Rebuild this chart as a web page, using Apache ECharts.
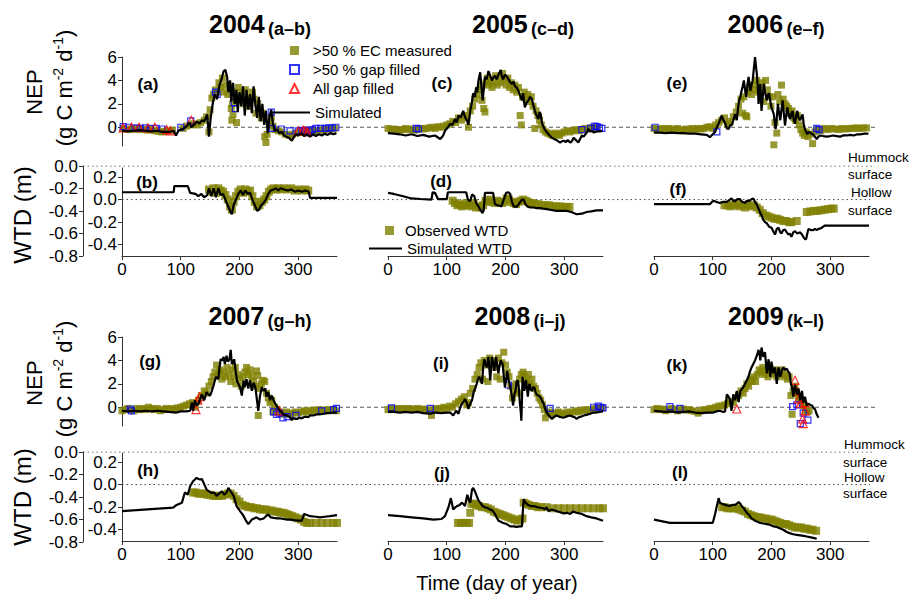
<!DOCTYPE html>
<html><head><meta charset="utf-8">
<script src="https://cdn.jsdelivr.net/npm/echarts@6/dist/echarts.min.js"></script>
<style>html,body{margin:0;padding:0;background:#fff}#c{width:909px;height:599px}</style>
</head><body><div id="c"></div>
<script>
// ---------------- DATA ----------------
const years = ['2004','2005','2006','2007','2008','2009'];
const yearTags = ['(a–b)','(c–d)','(e–f)','(g–h)','(i–j)','(k–l)'];
const nepLabels = ['(a)','(c)','(e)','(g)','(i)','(k)'];
const wtdLabels = ['(b)','(d)','(f)','(h)','(j)','(l)'];
const dayTicks = [0,100,200,300];
const nepTicks = [0,2,4,6];
const wtdInnerTicks = [-0.4,-0.2,0,0.2];
const wtdOuterTicks = [0,-0.2,-0.4,-0.6,-0.8];

const nep2004Sim = [[0,-0.3],[10,-0.35],[20,-0.3],[30,-0.25],[40,-0.3],[50,-0.35],[60,-0.3],[70,-0.4],[80,-0.4],[88,-0.3],[92,-0.7],[96,-0.3],[100,-0.2],[105,-0.1],[110,0.1],[115,0.4],[118,0.0],[122,0.2],[128,0.5],[132,0.3],[136,0.6],[140,0.5],[145,1.1],[148,-0.8],[151,0.8],[155,2.2],[158,2.8],[162,2.4],[166,3.6],[170,4.2],[173,4.8],[176,4.9],[179,4.3],[181,3.0],[184,4.0],[186,2.2],[189,3.8],[192,2.0],[195,3.2],[197,1.3],[200,3.0],[203,1.8],[206,3.5],[209,1.0],[212,3.2],[215,1.5],[218,2.8],[221,1.2],[224,3.5],[227,2.0],[230,0.8],[233,2.6],[236,0.5],[239,2.0],[242,0.2],[245,1.4],[248,-0.5],[251,0.9],[254,1.5],[257,0.3],[260,-0.3],[264,-0.2],[268,-0.5],[272,-0.4],[276,-0.7],[280,-0.8],[284,-0.9],[289,-1.15],[293,-0.8],[296,-0.6],[300,-0.7],[305,-0.5],[310,-0.75],[315,-0.6],[320,-0.8],[325,-0.6],[330,-0.75],[335,-0.6],[340,-0.7],[345,-0.55],[350,-0.65],[355,-0.5],[360,-0.6],[365,-0.5]];
const nep2004Obs = [[2,-0.1],[8,-0.15],[14,-0.2],[20,-0.1],[26,-0.2],[32,-0.15],[38,-0.2],[44,-0.25],[50,-0.2],[56,-0.3],[62,-0.35],[68,-0.4],[74,-0.35],[80,-0.3],[86,-0.25],[104,-0.1],[110,0.1],[116,0.2],[122,0.3],[128,0.2],[134,0.4],[140,0.6],[144,0.9],[148,-0.4],[150,1.5],[153,2.5],[156,2.8],[159,3.2],[162,3.0],[165,3.8],[168,3.4],[171,4.2],[174,3.0],[177,3.6],[180,2.8],[183,3.5],[186,1.6],[187,0.6],[188,2.0],[189,1.1],[190,3.0],[192,2.4],[195,0.4],[198,3.4],[201,2.6],[204,3.0],[207,2.0],[210,3.2],[213,2.4],[216,1.8],[219,2.6],[222,3.0],[225,2.4],[228,1.2],[231,2.0],[234,1.6],[237,0.8],[240,1.2],[243,-0.8],[245,-1.3],[247,-0.6],[251,0.3],[254,0.8],[257,0.1],[260,-0.2],[266,-0.3],[272,-0.4],[278,-0.6],[284,-0.7],[290,-0.6],[296,-0.5],[302,-0.4],[308,-0.45],[314,-0.35],[320,-0.4],[326,-0.3],[332,-0.3],[338,-0.25],[344,-0.2],[350,-0.2],[356,-0.15],[362,-0.1]];
const nep2004Gap = [[2,0.05],[12,0.0],[25,-0.05],[31,-0.1],[40,-0.05],[48,-0.1],[58,-0.1],[68,-0.15],[100,0.0],[117,0.55],[159,3.0],[162,2.8],[191,2.1],[193,1.6],[254,1.3],[256,-0.1],[271,-0.15],[286,-0.3],[300,-0.3],[306,-0.3],[312,-0.25],[318,-0.3],[324,-0.2],[330,-0.1],[338,-0.1],[346,-0.1],[352,-0.05],[358,-0.05],[364,0.0]];
const nep2004All = [[2,-0.05],[16,0.0],[29,0.0],[44,-0.05],[56,0.0],[76,-0.2],[82,-0.3],[118,0.6],[300,-0.3],[308,-0.25],[312,-0.3],[316,-0.4]];
const wtd2004Sim = [[0,0.065],[88,0.065],[89,0.12],[100,0.12],[112,0.12],[116,0.06],[125,0.05],[130,0.03],[135,0.05],[140,0.02],[145,0.04],[148,0.1],[152,0.03],[156,0.1],[160,0.02],[164,0.1],[168,0.04],[172,0.05],[176,0.0],[180,-0.05],[184,-0.1],[187,-0.13],[190,-0.05],[194,0.0],[198,0.05],[202,0.08],[206,0.04],[210,0.08],[214,0.05],[218,0.06],[222,0.0],[226,-0.05],[230,-0.1],[233,-0.09],[237,-0.05],[241,-0.03],[245,0.0],[249,0.05],[253,0.08],[258,0.09],[262,0.1],[266,0.08],[270,0.1],[276,0.09],[282,0.08],[288,0.09],[294,0.07],[300,0.08],[306,0.07],[312,0.08],[318,0.07],[320,0.015],[366,0.015]];
const wtd2004Obs = [[148,0.09],[152,0.07],[156,0.1],[160,0.06],[164,0.1],[168,0.08],[172,0.07],[176,0.04],[180,0.0],[184,-0.06],[187,-0.09],[190,-0.02],[194,0.03],[198,0.07],[202,0.09],[206,0.06],[210,0.09],[214,0.07],[218,0.08],[222,0.03],[226,-0.02],[230,-0.06],[234,-0.05],[238,-0.02],[242,0.0],[246,0.03],[250,0.07],[254,0.09],[258,0.1],[262,0.09],[266,0.1],[270,0.09],[276,0.1],[282,0.09],[288,0.1],[294,0.08],[300,0.09],[306,0.08],[312,0.09],[317,0.08]];

const nep2005Sim = [[0,-0.5],[10,-0.55],[20,-0.6],[30,-0.7],[40,-0.6],[50,-0.75],[60,-0.65],[70,-0.8],[80,-0.7],[89,-1.0],[94,-0.7],[97,-0.3],[102,0.0],[106,0.3],[110,0.2],[114,0.7],[117,0.4],[120,1.0],[124,0.85],[128,1.4],[131,0.9],[134,0.6],[137,0.2],[140,1.4],[143,2.2],[145,2.9],[148,2.6],[150,3.4],[152,3.0],[154,4.0],[157,4.7],[159,3.5],[161,2.3],[163,3.2],[165,4.3],[168,4.1],[171,4.8],[174,4.4],[177,4.0],[180,4.3],[182,4.4],[185,4.1],[188,4.5],[192,4.9],[194,4.3],[196,4.1],[199,4.5],[203,4.3],[207,3.9],[211,3.7],[214,3.9],[216,3.5],[219,3.4],[222,3.1],[225,2.7],[228,2.3],[230,2.9],[233,1.7],[236,2.1],[239,2.3],[242,2.6],[245,2.4],[248,1.8],[250,1.4],[253,1.0],[256,0.7],[258,1.3],[260,1.1],[262,0.4],[264,0.1],[267,-0.2],[270,-0.4],[275,-0.7],[279,-0.9],[283,-1.0],[287,-1.1],[290,-1.2],[293,-1.3],[296,-1.2],[299,-1.15],[303,-1.25],[306,-1.1],[310,-1.3],[313,-1.2],[316,-0.9],[320,-1.1],[324,-1.3],[327,-1.0],[330,-0.7],[333,-0.8],[336,-0.6],[339,-0.4],[341,-0.15],[344,-0.35],[347,-0.3],[350,-0.45],[353,-0.4],[357,-0.35],[361,-0.35],[365,-0.3]];
const nep2005Obs = [[0,-0.1],[5,-0.2],[10,-0.15],[15,-0.2],[20,-0.25],[25,-0.2],[30,-0.1],[35,-0.2],[40,-0.15],[45,-0.25],[50,-0.2],[55,-0.1],[60,-0.15],[65,-0.1],[70,-0.05],[75,0.0],[80,-0.1],[85,0.05],[90,0.0],[95,0.1],[100,0.2],[105,0.3],[110,0.5],[115,0.4],[120,0.8],[125,0.6],[130,1.0],[134,0.8],[137,0.0],[140,1.4],[144,1.8],[148,2.4],[152,2.8],[155,3.2],[158,3.6],[160,2.3],[163,1.6],[165,1.3],[167,3.8],[169,4.2],[171,3.6],[174,4.0],[177,3.4],[180,3.8],[183,4.4],[186,3.6],[189,4.2],[192,3.8],[195,4.6],[198,4.0],[201,3.6],[204,4.2],[207,3.4],[210,3.8],[213,3.2],[216,3.6],[219,3.0],[222,3.4],[225,1.0],[227,0.2],[229,2.6],[232,3.0],[235,2.4],[238,2.8],[241,2.2],[244,2.6],[247,1.8],[250,-0.1],[252,1.4],[255,1.0],[258,0.6],[261,0.2],[264,-0.2],[268,-0.4],[272,-0.5],[276,-0.6],[280,-0.7],[284,-0.5],[288,-0.6],[292,-0.7],[296,-0.5],[300,-0.4],[305,-0.3],[310,-0.4],[315,-0.3],[320,-0.2],[325,-0.3],[330,-0.2],[335,-0.1],[340,-0.15],[345,-0.05],[350,0.0],[355,-0.1]];
const nep2005Gap = [[48,-0.1],[52,-0.15],[330,-0.2],[345,-0.1],[352,0.1],[356,0.05],[360,-0.05],[364,-0.1]];
const nep2005All = [];
const wtd2005Sim = [[0,0.06],[10,0.05],[26,0.03],[40,0.01],[55,0.005],[74,0.0],[76,0.065],[80,0.06],[85,0.005],[100,0.005],[102,0.065],[120,0.065],[133,0.065],[136,0.0],[140,-0.015],[143,0.045],[147,0.03],[150,-0.03],[154,-0.06],[157,-0.09],[161,-0.12],[163,-0.09],[165,0.06],[172,0.06],[179,0.06],[182,-0.04],[186,-0.05],[190,-0.055],[193,-0.06],[197,0.0],[201,0.06],[205,0.065],[208,0.05],[211,-0.02],[214,-0.06],[219,-0.065],[224,-0.03],[228,0.0],[231,0.0],[234,-0.04],[237,-0.06],[242,-0.07],[248,-0.07],[253,-0.075],[259,-0.075],[264,-0.08],[270,-0.085],[276,-0.09],[282,-0.095],[287,-0.1],[295,-0.1],[304,-0.1],[312,-0.11],[321,-0.13],[330,-0.125],[338,-0.11],[346,-0.105],[355,-0.095],[366,-0.095]];
const wtd2005Obs = [[110,-0.01],[114,-0.03],[118,-0.05],[122,-0.04],[126,-0.06],[130,-0.05],[134,-0.03],[138,-0.05],[142,-0.06],[146,-0.03],[150,-0.07],[154,-0.06],[158,-0.07],[162,-0.05],[166,-0.01],[170,-0.02],[174,0.0],[178,-0.02],[182,-0.03],[186,-0.01],[190,-0.02],[194,-0.03],[198,-0.02],[202,0.01],[206,0.0],[210,-0.02],[214,-0.03],[218,-0.04],[222,-0.02],[226,-0.01],[230,0.0],[234,-0.01],[238,-0.02],[242,-0.03],[246,-0.03],[250,-0.04],[256,-0.04],[262,-0.05],[268,-0.05],[274,-0.05],[280,-0.06],[286,-0.06],[292,-0.06],[298,-0.065],[304,-0.065],[309,-0.065]];

const nep2006Sim = [[0,-0.45],[10,-0.45],[20,-0.5],[30,-0.45],[40,-0.5],[50,-0.5],[60,-0.55],[70,-0.55],[80,-0.6],[90,-0.65],[95,-0.85],[100,-0.6],[104,-0.4],[107,0.0],[110,0.3],[113,0.7],[115,1.0],[118,0.6],[121,0.4],[124,-0.1],[127,-0.15],[130,0.2],[132,0.15],[135,0.6],[138,1.1],[141,0.6],[143,1.6],[145,2.3],[147,2.6],[149,3.1],[151,3.5],[153,4.0],[155,3.2],[157,2.6],[159,3.6],[161,4.3],[163,3.5],[164,3.1],[166,3.6],[168,4.0],[170,5.0],[172,6.0],[174,5.0],[175,4.6],[177,3.2],[178,2.0],[180,3.2],[181,3.7],[183,1.4],[185,2.5],[187,3.7],[189,3.0],[192,2.3],[194,2.8],[196,2.9],[198,2.2],[200,1.7],[202,1.4],[204,1.1],[207,-0.15],[209,0.8],[211,2.0],[213,1.2],[215,0.6],[217,1.5],[219,2.3],[221,1.2],[223,0.15],[225,1.0],[227,1.7],[230,0.9],[232,0.7],[234,1.2],[236,1.4],[238,0.6],[240,0.3],[242,1.0],[244,1.4],[246,0.8],[249,0.6],[251,0.9],[253,1.1],[255,0.2],[257,-0.15],[259,-0.4],[261,-0.6],[263,-0.4],[266,-0.45],[269,-0.6],[271,-0.6],[274,-0.8],[277,-1.0],[280,-0.8],[283,-0.7],[288,-0.75],[294,-0.8],[300,-0.75],[305,-0.7],[311,-0.75],[317,-0.8],[322,-0.7],[328,-0.7],[334,-0.65],[340,-0.7],[346,-0.6],[351,-0.6],[358,-0.55],[365,-0.55]];
const nep2006Obs = [[0,-0.1],[5,-0.2],[10,-0.15],[15,-0.1],[20,-0.2],[25,-0.1],[30,-0.15],[35,-0.2],[40,-0.1],[45,-0.2],[50,-0.3],[55,-0.15],[60,-0.2],[65,-0.1],[70,-0.2],[75,-0.1],[80,-0.15],[85,-0.1],[90,0.0],[95,0.05],[100,-0.1],[105,0.2],[110,0.4],[115,0.6],[120,0.8],[125,0.3],[130,0.5],[135,0.9],[140,1.3],[144,1.8],[148,2.4],[151,1.2],[153,2.6],[156,1.0],[158,0.9],[160,3.0],[163,3.4],[166,2.8],[169,3.6],[172,3.2],[175,4.0],[178,3.0],[181,3.4],[184,3.8],[187,2.2],[190,4.0],[193,3.2],[196,2.6],[199,1.8],[202,2.6],[204,-1.5],[206,0.4],[209,-0.5],[211,2.8],[214,2.2],[217,3.6],[220,2.4],[223,2.0],[226,1.8],[229,1.6],[232,1.2],[235,1.4],[238,0.8],[241,0.6],[244,1.0],[247,0.2],[250,-0.2],[253,-0.5],[256,-0.7],[259,-0.4],[262,-0.8],[266,-0.6],[270,-1.4],[274,-0.4],[278,-0.2],[284,-0.3],[290,-0.1],[296,-0.2],[302,-0.1],[308,-0.15],[314,-0.2],[320,-0.1],[326,-0.15],[332,-0.1],[338,-0.1],[344,-0.05],[350,-0.1],[356,-0.05],[362,-0.05]];
const nep2006Gap = [[2,0.0],[107,-0.4],[277,-0.1],[281,-0.2]];
const nep2006All = [];
const wtd2006Sim = [[0,-0.04],[95,-0.04],[101,-0.01],[106,-0.02],[112,-0.03],[118,-0.02],[124,-0.02],[128,-0.005],[132,0.01],[135,-0.01],[138,-0.015],[142,0.005],[146,0.005],[150,-0.02],[155,-0.03],[158,-0.01],[161,-0.015],[165,0.0],[169,0.01],[172,-0.02],[175,-0.045],[178,-0.08],[181,-0.12],[184,-0.15],[186,-0.18],[189,-0.2],[192,-0.21],[196,-0.24],[200,-0.25],[203,-0.28],[206,-0.31],[209,-0.26],[212,-0.25],[215,-0.29],[217,-0.3],[220,-0.27],[223,-0.265],[226,-0.29],[229,-0.31],[231,-0.3],[234,-0.33],[237,-0.29],[240,-0.28],[244,-0.3],[249,-0.29],[252,-0.31],[254,-0.33],[257,-0.35],[259,-0.35],[261,-0.3],[263,-0.26],[267,-0.27],[271,-0.27],[274,-0.26],[277,-0.27],[280,-0.26],[284,-0.255],[288,-0.24],[291,-0.23],[300,-0.23],[320,-0.23],[340,-0.23],[366,-0.23]];
const wtd2006Obs = [[120,-0.05],[125,-0.05],[130,-0.06],[135,-0.05],[140,-0.04],[145,-0.06],[150,-0.05],[155,-0.07],[160,-0.05],[165,-0.06],[170,-0.05],[175,-0.07],[180,-0.09],[185,-0.12],[190,-0.14],[195,-0.15],[200,-0.16],[205,-0.17],[210,-0.17],[215,-0.18],[220,-0.19],[225,-0.19],[230,-0.2],[234,-0.2],[243,-0.19],[260,-0.11],[266,-0.105],[272,-0.1],[278,-0.1],[284,-0.095],[290,-0.09],[296,-0.085],[302,-0.08],[306,-0.08]];

const nep2007Sim = [[0,-0.3],[10,-0.35],[20,-0.3],[30,-0.35],[40,-0.3],[50,-0.35],[60,-0.3],[70,-0.35],[80,-0.4],[93,-0.45],[100,-0.35],[110,-0.35],[116,-0.3],[119,0.4],[121,-0.3],[124,0.6],[127,0.15],[130,0.3],[133,0.7],[136,1.1],[140,0.6],[144,1.3],[147,1.1],[150,1.0],[153,1.4],[156,1.9],[160,2.6],[164,2.4],[166,3.4],[168,4.1],[171,4.0],[173,4.3],[175,3.7],[178,4.4],[180,3.9],[183,4.1],[185,4.9],[187,3.7],[189,3.8],[191,4.1],[194,2.9],[196,2.2],[198,2.0],[201,1.7],[204,1.0],[207,2.3],[209,1.7],[212,2.4],[215,1.6],[218,2.3],[221,1.4],[224,2.1],[227,1.7],[229,0.9],[232,-0.3],[235,1.0],[238,1.7],[241,1.4],[244,1.6],[246,0.9],[249,1.3],[252,0.6],[255,1.0],[258,0.6],[261,0.3],[263,0.15],[266,-0.1],[269,-0.3],[272,-0.45],[275,-0.6],[278,-0.7],[281,-0.7],[284,-0.8],[287,-0.9],[289,-1.1],[292,-0.9],[295,-1.0],[298,-1.0],[302,-0.9],[306,-0.95],[309,-0.85],[313,-0.8],[317,-0.85],[320,-0.7],[326,-0.7],[332,-0.6],[338,-0.6],[343,-0.55],[348,-0.5],[354,-0.5],[360,-0.45],[366,-0.45]];
const nep2007Obs = [[0,-0.3],[5,-0.2],[10,-0.1],[15,-0.2],[20,-0.3],[25,-0.1],[30,-0.2],[35,-0.1],[40,-0.2],[45,0.0],[50,-0.1],[55,-0.2],[60,-0.1],[65,-0.3],[70,-0.2],[75,-0.1],[80,-0.2],[85,-0.1],[90,-0.2],[95,-0.05],[100,0.0],[105,0.1],[110,0.2],[115,0.3],[120,0.4],[125,0.0],[130,0.6],[135,1.0],[140,1.4],[144,1.2],[148,1.8],[152,2.2],[155,2.6],[158,3.0],[161,3.6],[164,2.8],[167,3.2],[170,2.4],[173,3.0],[176,2.6],[179,3.4],[182,2.8],[185,2.2],[188,3.2],[191,2.6],[193,3.4],[194,2.0],[197,2.8],[200,2.4],[203,1.8],[206,2.6],[209,3.0],[212,3.4],[215,2.8],[218,3.2],[221,2.6],[224,2.2],[227,1.8],[229,3.1],[231,2.7],[232,-0.7],[234,1.6],[237,2.0],[240,2.3],[243,2.2],[246,1.2],[249,0.8],[252,0.4],[255,0.6],[257,-0.4],[260,0.0],[264,-0.2],[268,-0.4],[272,-0.6],[276,-0.5],[280,-0.4],[285,-0.6],[290,-0.5],[295,-0.4],[300,-0.5],[305,-0.4],[310,-0.3],[315,-0.4],[320,-0.3],[325,-0.25],[330,-0.3],[335,-0.2],[340,-0.25],[345,-0.3],[350,-0.2],[355,-0.25],[360,-0.2],[365,-0.3]];
const nep2007Gap = [[14,-0.15],[16,-0.3],[258,-0.4],[263,-0.6],[268,-0.5],[274,-0.9],[281,-0.8],[296,-0.7],[340,-0.3],[360,-0.2],[365,-0.1]];
const nep2007All = [[126,-0.2],[129,0.6],[132,0.9],[268,-0.3]];
const wtd2007Sim = [[0,-0.235],[87,-0.205],[93,-0.18],[102,-0.16],[107,-0.07],[112,-0.09],[116,-0.015],[121,0.03],[127,0.06],[130,0.05],[133,0.045],[136,0.05],[139,0.015],[144,-0.045],[148,-0.06],[153,-0.075],[157,-0.07],[161,-0.1],[165,-0.08],[170,-0.06],[174,-0.09],[178,-0.07],[181,-0.03],[185,-0.06],[190,-0.1],[195,-0.19],[201,-0.235],[206,-0.27],[210,-0.31],[215,-0.35],[218,-0.33],[221,-0.31],[225,-0.3],[229,-0.29],[235,-0.31],[241,-0.3],[245,-0.28],[249,-0.265],[253,-0.29],[258,-0.295],[264,-0.3],[269,-0.3],[275,-0.305],[281,-0.31],[287,-0.31],[292,-0.315],[300,-0.32],[306,-0.32],[308,-0.29],[310,-0.26],[315,-0.27],[320,-0.28],[330,-0.285],[337,-0.29],[345,-0.285],[354,-0.28],[366,-0.27]];
const wtd2007Obs = [[121,-0.07],[125,-0.07],[130,-0.08],[135,-0.08],[140,-0.08],[145,-0.09],[150,-0.09],[155,-0.1],[160,-0.1],[165,-0.1],[170,-0.1],[175,-0.09],[180,-0.08],[185,-0.08],[190,-0.1],[195,-0.13],[200,-0.15],[205,-0.18],[210,-0.19],[215,-0.2],[220,-0.2],[225,-0.21],[230,-0.21],[235,-0.22],[240,-0.22],[245,-0.22],[250,-0.23],[255,-0.23],[260,-0.24],[265,-0.24],[270,-0.25],[275,-0.25],[280,-0.26],[285,-0.27],[290,-0.28],[295,-0.29],[300,-0.3],[305,-0.31],[310,-0.33],[315,-0.34],[320,-0.34],[330,-0.34],[340,-0.34],[350,-0.34],[360,-0.34],[366,-0.34]];

const nep2008Sim = [[0,-0.4],[10,-0.4],[20,-0.45],[30,-0.4],[40,-0.45],[50,-0.4],[60,-0.5],[72,-0.55],[80,-0.45],[90,-0.5],[100,-0.45],[106,-0.45],[111,-0.7],[116,-0.3],[120,-0.55],[123,0.0],[126,0.3],[129,0.5],[131,0.7],[134,0.4],[137,-0.15],[140,0.3],[143,0.6],[146,1.3],[149,1.7],[151,2.0],[153,2.4],[155,2.6],[158,2.3],[160,2.0],[162,3.4],[164,4.1],[166,3.7],[168,3.4],[171,4.3],[173,3.0],[174,2.3],[176,3.6],[177,4.3],[179,3.8],[181,3.1],[183,4.0],[184,4.3],[186,3.5],[188,2.9],[190,3.6],[192,4.0],[195,3.7],[197,2.7],[199,1.7],[201,2.3],[203,3.1],[205,2.4],[207,2.0],[209,1.5],[211,0.9],[213,0.15],[215,1.1],[217,1.4],[219,2.2],[221,2.3],[223,1.5],[224,0.6],[226,-0.4],[227,-1.15],[228,0.5],[229,2.6],[231,1.8],[232,1.4],[234,2.2],[235,2.3],[237,1.4],[238,0.9],[240,1.8],[241,2.0],[243,1.5],[245,1.4],[247,1.7],[249,1.7],[251,1.3],[253,1.1],[256,1.0],[259,0.9],[262,0.6],[265,0.3],[268,-0.2],[270,-0.45],[274,-0.7],[279,-1.0],[283,-0.8],[287,-0.7],[291,-0.8],[295,-0.85],[299,-0.9],[303,-0.8],[306,-0.75],[310,-0.7],[314,-0.8],[318,-0.85],[321,-1.0],[325,-0.85],[329,-0.8],[333,-0.7],[338,-0.65],[344,-0.55],[350,-0.45],[355,-0.45],[360,-0.4],[366,-0.35]];
const nep2008Obs = [[0,-0.2],[5,-0.1],[10,-0.2],[15,-0.1],[20,-0.15],[25,-0.1],[30,-0.2],[35,-0.1],[40,-0.15],[45,-0.2],[50,-0.1],[55,-0.2],[60,-0.15],[65,-0.2],[70,-0.3],[74,-0.7],[78,-0.2],[82,-0.1],[86,-0.2],[90,-0.1],[95,0.0],[100,-0.1],[105,0.1],[110,0.0],[115,0.3],[120,0.5],[125,0.7],[130,0.9],[134,0.2],[137,0.4],[140,1.2],[144,1.6],[148,2.4],[152,2.8],[155,3.4],[158,3.8],[161,2.4],[164,4.0],[167,3.6],[170,2.2],[173,4.2],[176,3.8],[179,4.0],[182,3.4],[185,2.6],[188,4.2],[191,2.4],[194,3.8],[197,4.7],[200,3.6],[203,3.0],[206,2.6],[209,1.8],[212,0.8],[215,1.4],[218,2.0],[221,1.2],[224,2.4],[227,2.8],[230,3.0],[233,2.6],[236,2.2],[239,2.8],[242,2.0],[245,2.4],[248,1.8],[251,1.6],[254,1.2],[257,0.8],[260,0.6],[263,0.2],[266,-0.2],[268,-0.9],[272,-0.5],[276,-0.4],[280,-0.6],[285,-0.5],[290,-0.4],[295,-0.5],[300,-0.6],[305,-0.4],[310,-0.5],[315,-0.4],[320,-0.3],[325,-0.4],[330,-0.3],[335,-0.2],[340,-0.3],[345,-0.2],[350,-0.15],[355,-0.1],[360,-0.1],[365,-0.05]];
const nep2008Gap = [[6,-0.05],[72,-0.1],[205,1.9],[276,-0.1],[350,0.0],[358,0.1],[362,0.0],[366,-0.05]];
const nep2008All = [];
const wtd2008Sim = [[0,-0.27],[20,-0.28],[40,-0.29],[60,-0.3],[77,-0.31],[91,-0.305],[97,-0.28],[103,-0.2],[107,-0.12],[111,-0.22],[115,-0.2],[118,-0.19],[122,-0.18],[126,-0.16],[131,-0.19],[135,-0.09],[138,-0.14],[140,-0.16],[143,-0.045],[145,-0.03],[148,-0.06],[151,-0.1],[154,-0.14],[157,-0.16],[161,-0.19],[165,-0.2],[170,-0.21],[174,-0.22],[178,-0.23],[182,-0.26],[186,-0.3],[188,-0.32],[192,-0.33],[196,-0.34],[202,-0.35],[208,-0.37],[214,-0.37],[219,-0.375],[224,-0.37],[228,-0.37],[230,-0.2],[231,-0.13],[234,-0.16],[238,-0.18],[243,-0.19],[248,-0.19],[254,-0.2],[259,-0.205],[264,-0.21],[267,-0.22],[270,-0.2],[273,-0.235],[279,-0.22],[284,-0.23],[287,-0.235],[293,-0.245],[299,-0.255],[305,-0.25],[310,-0.26],[315,-0.24],[321,-0.25],[330,-0.26],[338,-0.28],[346,-0.29],[355,-0.3],[366,-0.32]];
const wtd2008Obs = [[119,-0.34],[124,-0.34],[129,-0.34],[134,-0.34],[138,-0.34],[140,-0.25],[142,-0.17],[146,-0.17],[150,-0.18],[155,-0.19],[160,-0.2],[165,-0.2],[170,-0.21],[175,-0.22],[180,-0.24],[185,-0.25],[190,-0.26],[195,-0.27],[200,-0.28],[205,-0.29],[210,-0.3],[215,-0.31],[220,-0.32],[225,-0.31],[229,-0.3],[231,-0.16],[235,-0.17],[240,-0.18],[245,-0.19],[250,-0.19],[255,-0.2],[260,-0.2],[270,-0.2],[280,-0.21],[290,-0.21],[300,-0.21],[310,-0.21],[320,-0.21],[330,-0.21],[340,-0.21],[350,-0.21],[360,-0.21],[366,-0.21]];

const nep2009Sim = [[0,-0.3],[10,-0.35],[20,-0.4],[30,-0.35],[40,-0.45],[50,-0.4],[60,-0.35],[70,-0.45],[80,-0.5],[90,-0.45],[101,-0.45],[106,-0.35],[112,-0.3],[118,-0.4],[121,-0.35],[124,1.1],[127,0.9],[129,0.7],[132,-0.3],[135,1.1],[138,0.6],[141,1.4],[144,0.45],[147,1.4],[150,1.6],[152,1.7],[155,2.0],[158,2.3],[161,2.6],[163,3.0],[166,3.4],[169,3.7],[172,4.0],[175,4.4],[178,4.9],[180,4.4],[181,4.0],[183,5.1],[186,4.3],[189,4.7],[192,2.9],[195,4.1],[198,2.6],[200,3.9],[203,2.9],[206,3.4],[209,2.0],[212,3.4],[215,2.6],[218,3.2],[220,3.4],[223,3.2],[226,3.3],[229,3.0],[231,2.9],[233,2.0],[235,1.7],[237,0.9],[240,1.9],[243,1.1],[246,1.6],[249,0.6],[252,1.4],[254,0.4],[257,0.9],[260,0.15],[263,0.3],[266,0.2],[269,0.15],[272,-0.1],[274,-0.15],[277,-0.6],[280,-0.9]];
const nep2009Obs = [[0,-0.2],[5,-0.1],[10,-0.2],[15,-0.15],[20,-0.3],[25,-0.2],[30,-0.1],[35,-0.2],[40,-0.3],[45,-0.2],[50,-0.15],[55,-0.25],[60,-0.2],[65,-0.3],[70,-0.35],[75,-0.5],[80,-0.3],[85,-0.2],[90,-0.25],[95,-0.1],[100,-0.1],[105,0.0],[110,0.1],[115,0.1],[120,0.2],[125,0.3],[130,0.5],[135,0.4],[140,0.8],[144,1.0],[148,1.4],[152,1.2],[155,1.6],[158,2.0],[161,1.8],[164,2.4],[167,2.2],[170,2.6],[173,2.2],[176,2.8],[179,3.2],[182,3.0],[185,3.4],[188,2.8],[191,3.2],[194,2.6],[197,3.4],[200,3.0],[203,2.8],[206,3.2],[209,2.6],[212,3.0],[215,2.8],[218,3.2],[221,2.6],[224,2.8],[227,2.4],[230,2.6],[233,1.0],[235,-0.6],[237,1.4],[240,1.8],[243,1.2],[246,0.8],[249,0.6],[252,0.3],[255,0.1],[258,-0.3],[261,-0.4],[264,-0.3]];
const nep2009Gap = [[27,0.05],[44,-0.1],[236,0.05],[243,0.2],[249,-1.4],[254,-0.5],[262,-1.1]];
const nep2009All = [[141,-0.15],[240,2.3],[243,1.4],[246,0.7],[249,0.3],[253,-1.0],[254,-1.4],[257,0.4],[257,-0.3]];
const wtd2009Sim = [[0,-0.31],[27,-0.34],[60,-0.34],[100,-0.34],[104,-0.26],[107,-0.19],[110,-0.12],[112,-0.16],[116,-0.17],[121,-0.18],[125,-0.185],[129,-0.19],[133,-0.18],[138,-0.18],[141,-0.17],[144,-0.155],[147,-0.17],[149,-0.19],[153,-0.21],[158,-0.25],[162,-0.27],[166,-0.3],[172,-0.32],[176,-0.33],[181,-0.34],[186,-0.345],[192,-0.35],[197,-0.355],[203,-0.37],[209,-0.375],[215,-0.39],[220,-0.4],[226,-0.42],[231,-0.43],[237,-0.44],[243,-0.445],[249,-0.45],[255,-0.455],[260,-0.46],[265,-0.465],[269,-0.47],[273,-0.475],[277,-0.48]];
const wtd2009Obs = [[116,-0.2],[120,-0.2],[125,-0.21],[130,-0.21],[135,-0.21],[140,-0.21],[145,-0.22],[150,-0.23],[155,-0.24],[160,-0.26],[165,-0.27],[170,-0.28],[175,-0.29],[180,-0.29],[185,-0.3],[190,-0.3],[195,-0.31],[200,-0.31],[205,-0.32],[210,-0.33],[215,-0.34],[220,-0.35],[225,-0.35],[230,-0.36],[235,-0.37],[240,-0.38],[245,-0.38],[250,-0.38],[255,-0.39],[260,-0.39],[265,-0.4],[270,-0.4],[276,-0.41]];

// ---------------- LAYOUT / STYLE ----------------
const FONT = '"Liberation Sans", Arial, sans-serif';
const OLIVE = '#7f7f00', BLUE = '#0000ff', RED = '#ff0000', AX = '#333';
const COL_LEFT = [122, 388, 654], PW = 215;
const ROWS = [{nep:57, wtd:168, out:166}, {nep:337, wtd:453, out:452}];
const NEP_H = 89, WTD_H = 88, OUT_H = 90;
const DAY_MAX = 366, NEP_MIN = -1.6, NEP_MAX = 6, WTD_MIN = -0.5, WTD_MAX = 0.28;

const panels = [
  {row:0,col:0,nSim:nep2004Sim,nObs:nep2004Obs,nGap:nep2004Gap,nAll:nep2004All,wSim:wtd2004Sim,wObs:wtd2004Obs},
  {row:0,col:1,nSim:nep2005Sim,nObs:nep2005Obs,nGap:nep2005Gap,nAll:nep2005All,wSim:wtd2005Sim,wObs:wtd2005Obs},
  {row:0,col:2,nSim:nep2006Sim,nObs:nep2006Obs,nGap:nep2006Gap,nAll:nep2006All,wSim:wtd2006Sim,wObs:wtd2006Obs},
  {row:1,col:0,nSim:nep2007Sim,nObs:nep2007Obs,nGap:nep2007Gap,nAll:nep2007All,wSim:wtd2007Sim,wObs:wtd2007Obs},
  {row:1,col:1,nSim:nep2008Sim,nObs:nep2008Obs,nGap:nep2008Gap,nAll:nep2008All,wSim:wtd2008Sim,wObs:wtd2008Obs},
  {row:1,col:2,nSim:nep2009Sim,nObs:nep2009Obs,nGap:nep2009Gap,nAll:nep2009All,wSim:wtd2009Sim,wObs:wtd2009Obs}
];

const grids = [], xAxes = [], yAxes = [], series = [];
function addGrid(g, x, y) {
  grids.push(g); const i = grids.length - 1;
  xAxes.push(Object.assign({gridIndex:i}, x)); yAxes.push(Object.assign({gridIndex:i}, y));
  return i;
}
function hiddenAxis(min, max) { return {type:'value', min, max, show:false, splitLine:{show:false}}; }
function shownAxis(min, max, ticks, fmt) {
  return {type:'value', min, max, show:true, splitLine:{show:false},
    axisLine:{show:true, onZero:false, lineStyle:{color:AX, width:1}},
    axisTick:{show:true, length:4, customValues:ticks, lineStyle:{color:AX}},
    axisLabel:{customValues:ticks, margin:5, fontSize:17, color:'#000', fontFamily:FONT, formatter:fmt}};
}
const fmtInt = v => String(v);
const fmt1 = v => (Math.abs(v) < 1e-9 ? 0 : v).toFixed(1);

panels.forEach(p => {
  const left = COL_LEFT[p.col], r = ROWS[p.row];
  const gi = addGrid({left, top:r.nep, width:PW, height:NEP_H},
    hiddenAxis(0, DAY_MAX),
    p.col === 0 ? shownAxis(NEP_MIN, NEP_MAX, nepTicks, fmtInt) : hiddenAxis(NEP_MIN, NEP_MAX));
  series.push({type:'scatter', name:'>50 % EC measured', xAxisIndex:gi, yAxisIndex:gi, data:p.nObs,
    symbol:'rect', symbolSize:7, itemStyle:{color:OLIVE}, z:2, silent:true});
  series.push({type:'scatter', name:'>50 % gap filled', xAxisIndex:gi, yAxisIndex:gi, data:p.nGap,
    symbol:'rect', symbolSize:6, itemStyle:{color:'rgba(255,255,255,0)', borderColor:BLUE, borderWidth:1.2}, z:3, silent:true});
  series.push({type:'scatter', name:'All gap filled', xAxisIndex:gi, yAxisIndex:gi, data:p.nAll,
    symbol:'triangle', symbolSize:8, itemStyle:{color:'rgba(255,255,255,0)', borderColor:RED, borderWidth:1.2}, z:4, silent:true});
  series.push({type:'line', name:'Simulated', xAxisIndex:gi, yAxisIndex:gi, data:p.nSim,
    symbol:'none', showSymbol:false, lineStyle:{color:'#000', width:2.2}, itemStyle:{color:'#000'}, z:5, silent:true});

  const wi = addGrid({left, top:r.wtd, width:PW, height:WTD_H},
    shownAxis(0, DAY_MAX, dayTicks, fmtInt),
    p.col === 0 ? shownAxis(WTD_MIN, WTD_MAX, wtdInnerTicks, fmt1) : hiddenAxis(WTD_MIN, WTD_MAX));
  series.push({type:'scatter', name:'Observed WTD', xAxisIndex:wi, yAxisIndex:wi, data:p.wObs,
    symbol:'rect', symbolSize:8, itemStyle:{color:OLIVE}, z:2, silent:true});
  series.push({type:'line', name:'Simulated WTD', xAxisIndex:wi, yAxisIndex:wi, data:p.wSim,
    symbol:'none', showSymbol:false, lineStyle:{color:'#000', width:2.2}, itemStyle:{color:'#000'}, z:5, silent:true});
});

// reference lines spanning each row
const refSpan = [[0,0],[1,0]];
ROWS.forEach(r => {
  const oi = addGrid({left:83, top:r.out, width:790, height:OUT_H},
    hiddenAxis(0, 1), shownAxis(-0.8, 0, wtdOuterTicks, fmt1));
  series.push({type:'line', xAxisIndex:oi, yAxisIndex:oi, data:refSpan, symbol:'none', silent:true, z:1,
    lineStyle:{color:'#444', width:1, type:[1.5,3]}});
  const hi = addGrid({left:122, top:r.wtd, width:748, height:WTD_H}, hiddenAxis(0, 1), hiddenAxis(WTD_MIN, WTD_MAX));
  series.push({type:'line', xAxisIndex:hi, yAxisIndex:hi, data:refSpan, symbol:'none', silent:true, z:1,
    lineStyle:{color:'#444', width:1, type:[1.5,3]}});
  const ni = addGrid({left:122, top:r.nep, width:755, height:NEP_H}, hiddenAxis(0, 1), hiddenAxis(NEP_MIN, NEP_MAX));
  series.push({type:'line', xAxisIndex:ni, yAxisIndex:ni, data:refSpan, symbol:'none', silent:true, z:1,
    lineStyle:{color:'#555', width:1, type:[4,3]}});
});

// ---------------- TEXT ----------------
const titlePos = [[260,24],[523,24],[776,24],[260,316],[520,316],[776,316]];
const nepLabPos = [[148,84],[442,83],[677,83],[150,361],[441,363],[677,365]];
const wtdLabPos = [[147,182],[441,181],[678,189],[148,470],[442,473],[680,472]];
const graphics = [];
function txt(x, y, text, extra) {
  graphics.push({type:'text', x, y, silent:true, style:Object.assign({text, fill:'#000', fontFamily:FONT,
    textAlign:'center', textVerticalAlign:'middle'}, extra || {})});
}
years.forEach((y, i) => {
  txt(titlePos[i][0], titlePos[i][1], '{y|' + y + '} {p|' + yearTags[i] + '}', {rich:{
    y:{fontSize:25, fontWeight:'bold', lineHeight:28, fontFamily:FONT},
    p:{fontSize:18, fontWeight:'bold', lineHeight:22, verticalAlign:'bottom', fontFamily:FONT}}});
  txt(nepLabPos[i][0], nepLabPos[i][1], nepLabels[i], {fontSize:17, fontWeight:'bold'});
  txt(wtdLabPos[i][0], wtdLabPos[i][1], wtdLabels[i], {fontSize:17, fontWeight:'bold'});
});
const unitRich = {n:{fontSize:22, lineHeight:26, fontFamily:FONT}, s:{fontSize:14, lineHeight:14, verticalAlign:'top', fontFamily:FONT}};
[[92,88,215],[383,379,497]].forEach(([yn, yu, yw]) => {
  graphics.push({type:'text', x:34, y:yn, rotation:Math.PI/2, silent:true,
    style:{text:'NEP', fontSize:22, fontFamily:FONT, fill:'#000', textAlign:'center', textVerticalAlign:'middle'}});
  graphics.push({type:'text', x:64, y:yu, rotation:Math.PI/2, silent:true,
    style:{text:'{n|(g C m}{s|-2}{n| d}{s|-1}{n|)}', rich:unitRich, fill:'#000', textAlign:'center', textVerticalAlign:'middle'}});
  graphics.push({type:'text', x:22, y:yw, rotation:Math.PI/2, silent:true,
    style:{text:'WTD (m)', fontSize:24, fontFamily:FONT, fill:'#000', textAlign:'center', textVerticalAlign:'middle'}});
});
[[848,157,'Hummock'],[848,174,'surface'],[851,192,'Hollow'],[848,210,'surface'],
 [844,444,'Hummock'],[843,462,'surface'],[844,477,'Hollow'],[843,493,'surface']].forEach(([x,y,t]) =>
  txt(x, y, t, {fontSize:13.5, textAlign:'left'}));
txt(497, 583, 'Time (day of year)', {fontSize:20});

function legendText(pad) {
  return {fontSize:15, lineHeight:19, color:'#000', fontFamily:FONT,
    rich:{pad:{width:pad, fontSize:15, lineHeight:19}, t:{fontSize:15, lineHeight:19, color:'#000', fontFamily:FONT}}};
}
const option = {
  animation:false,
  backgroundColor:'#fff',
  grid:grids, xAxis:xAxes, yAxis:yAxes, series,
  legend:[
    {data:['>50 % EC measured','>50 % gap filled','All gap filled'], orient:'vertical', left:284, top:36,
      itemWidth:9, itemHeight:9, itemGap:0, textStyle:legendText(9), formatter:'{pad| }{t|{name}}', selectedMode:false},
    {data:[{name:'Simulated', icon:'rect'}], orient:'vertical', left:267, top:98, itemWidth:38, itemHeight:2,
      textStyle:legendText(0), formatter:'{t|{name}}', selectedMode:false},
    {data:['Observed WTD'], orient:'vertical', left:380, top:216, itemWidth:9, itemHeight:9,
      textStyle:legendText(6), formatter:'{pad| }{t|{name}}', selectedMode:false},
    {data:[{name:'Simulated WTD', icon:'rect'}], orient:'vertical', left:364, top:234, itemWidth:33, itemHeight:2,
      textStyle:legendText(0), formatter:'{t|{name}}', selectedMode:false}
  ],
  graphic:graphics
};
const chart = echarts.init(document.getElementById('c'), null, {renderer:'svg', width:909, height:599});
chart.setOption(option);
</script></body></html>
